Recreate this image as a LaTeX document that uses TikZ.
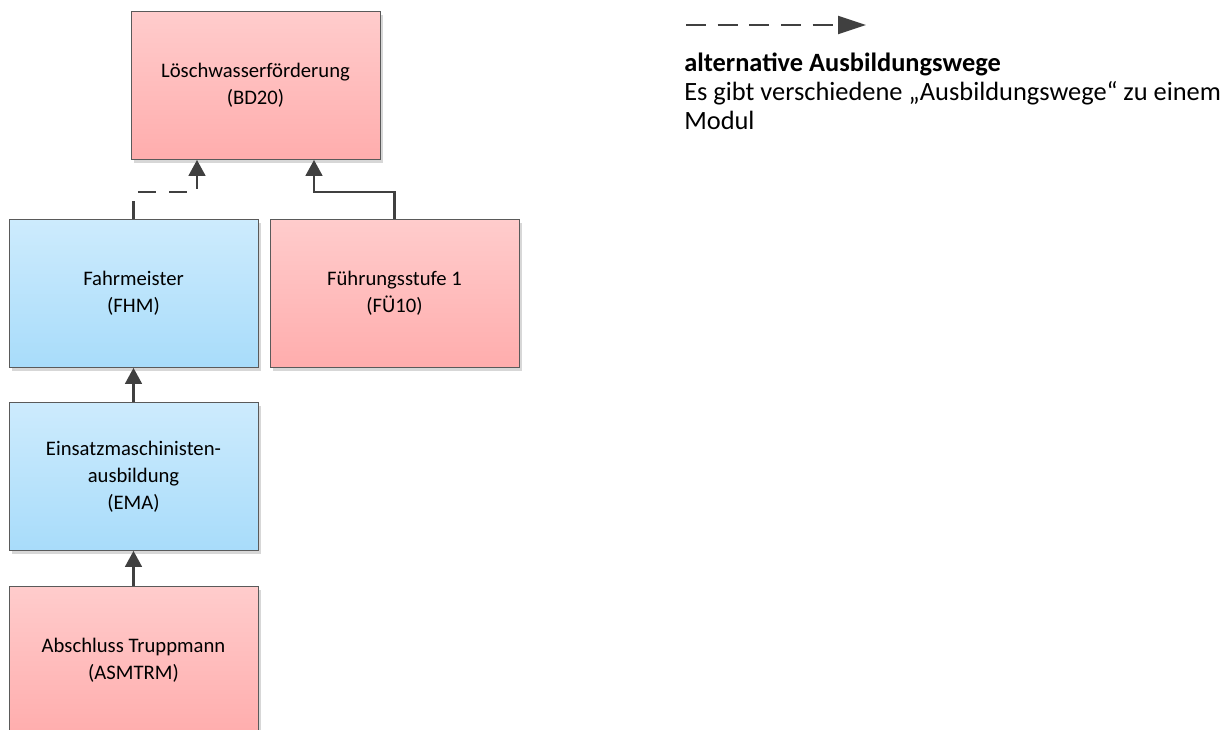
\documentclass[tikz,border=0pt]{standalone}
\usepackage{fontspec}
\setmainfont{Carlito}
\usetikzlibrary{arrows.meta,shadows}
\definecolor{pinktop}{RGB}{255,204,204}
\definecolor{pinkbot}{RGB}{255,173,173}
\definecolor{bluetop}{RGB}{205,235,253}
\definecolor{bluebot}{RGB}{168,220,250}
\definecolor{boxline}{RGB}{90,90,90}
\definecolor{conncol}{RGB}{64,64,64}
\definecolor{shadowcol}{RGB}{215,215,215}
\tikzset{
  modbox/.style={rectangle, draw=boxline, line width=0.6pt, inner sep=0pt,
    minimum width=186.75pt, minimum height=111pt, align=center,
    font=\fontsize{15.5}{20.25}\selectfont,
    general shadow={fill=shadowcol, shadow xshift=2.6pt, shadow yshift=-2.6pt}},
  pinkbox/.style={modbox, top color=pinktop, bottom color=pinkbot},
  bluebox/.style={modbox, top color=bluetop, bottom color=bluebot},
  conn/.style={draw=conncol, line width=2pt, -{Triangle[length=12pt,width=12.5pt]}},
  altconn/.style={conn, dash pattern=on 13.5pt off 10pt},
  legtext/.style={anchor=base west, inner sep=0pt, font=\fontsize{19.8}{22}\selectfont},
}
\begin{document}
\begin{tikzpicture}[x=0.75pt,y=-0.75pt]
\useasboundingbox (0,0) rectangle (1224,729);
\node[pinkbox] (bd) at (255.5,85.5) {Löschwasserförderung\\(BD20)};
\node[bluebox] (fhm) at (133.5,293.5) {Fahrmeister\\(FHM)};
\node[pinkbox] (fu) at (394.5,293.5) {Führungsstufe 1\\(FÜ10)};
\node[bluebox] (ema) at (133.5,476.5) {Einsatzmaschinisten-\\ausbildung\\(EMA)};
\node[pinkbox] (asm) at (133.5,660.5) {Abschluss Truppmann\\(ASMTRM)};

\draw[altconn] (fhm.north) -- ++(0,-27) -| ([xshift=-43.875pt]bd.south);
\draw[conn] (fu.north) -- ++(0,-27) -| ([xshift=43.875pt]bd.south);
\draw[conn] (ema.north) -- (fhm.south);
\draw[conn] (asm.north) -- (ema.south);

\coordinate (la) at (686,25);
\coordinate (lb) at (866,25);
\draw[draw=conncol, line width=1.6pt, dash pattern=on 15pt off 8.75pt,
  -{Triangle[length=21pt,width=13.5pt]}] (la) -- (lb);
\node[legtext] (leg1) at (684,71) {\textbf{alternative Ausbildungswege}};
\node[legtext] (leg2) at (684,100) {Es gibt verschiedene „Ausbildungswege“ zu einem};
\node[legtext] (leg3) at (684,129) {Modul};
\end{tikzpicture}
\end{document}
